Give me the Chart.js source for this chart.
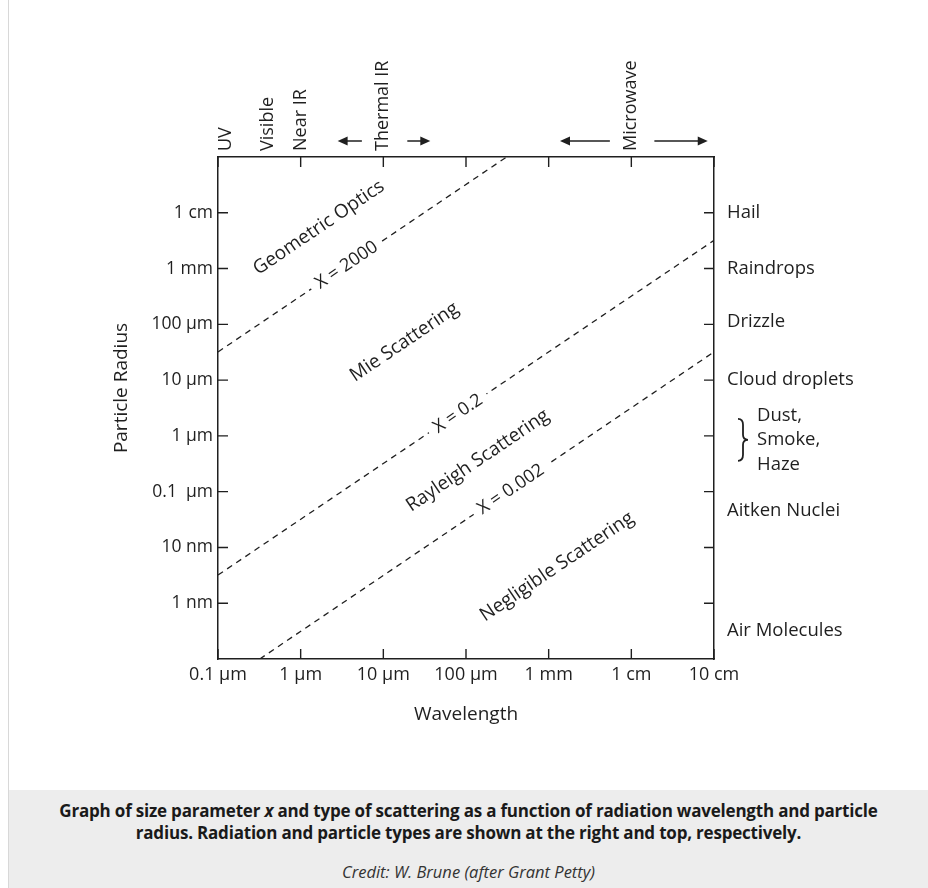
<!DOCTYPE html>
<html>
<head>
<meta charset="utf-8">
<script src="https://cdn.jsdelivr.net/npm/chart.js@4.4.0/dist/chart.umd.min.js"></script>
<style>
body { margin: 0; background: #fff; font-family: 'Open Sans', sans-serif; }
#wrap { position: relative; width: 928px; height: 888px; overflow: hidden; }
#edge { position: absolute; left: 8px; top: 0; width: 1px; height: 888px; background: #d8d8d8; }
#chart { position: absolute; left: 0; top: 0; }
#caption { position: absolute; left: 9px; top: 790px; width: 919px; height: 98px; background: #ededed; text-align: center; color: #1a1a1a; }
.cap { font-weight: 700; font-size: 17px; line-height: 22px; padding-top: 10px; letter-spacing: -0.2px; }
.credit { font-style: italic; font-size: 16.5px; margin-top: 16px; color: #333; }
</style>
</head>
<body>
<div id="wrap">
  <canvas id="chart" width="928" height="790"></canvas>
  <div id="edge"></div>
  <div id="caption">
    <div class="cap">Graph of size parameter <i>x</i> and type of scattering as a function of radiation wavelength and particle<br>radius. Radiation and particle types are shown at the right and top, respectively.</div>
    <div class="credit">Credit: W. Brune (after Grant Petty)</div>
  </div>
</div>
<script>
// axis ticks, in metres
const wavelengthTicks = [1e-7, 1e-6, 1e-5, 1e-4, 1e-3, 1e-2, 1e-1];
const wavelengthLabels = ['0.1 µm', '1 µm', '10 µm', '100 µm', '1 mm', '1 cm', '10 cm'];
const radiusTicks = [1e-9, 1e-8, 1e-7, 1e-6, 1e-5, 1e-4, 1e-3, 1e-2];
const radiusLabels = ['1 nm', '10 nm', '0.1  µm', '1 µm', '10 µm', '100 µm', '1 mm', '1 cm'];

// size parameter lines (end points)
const x2000Line = [{ x: 1e-7, y: 3.2e-5 }, { x: 3.1e-4, y: 1e-1 }];
const x02Line = [{ x: 1e-7, y: 3.2e-9 }, { x: 1e-1, y: 3.2e-3 }];
const x0002Line = [{ x: 3.2e-7, y: 1e-10 }, { x: 1e-1, y: 3.2e-5 }];

// names of the scattering regimes
const regionNames = ['Geometric Optics', 'Mie Scattering', 'Rayleigh Scattering', 'Negligible Scattering'];
const regionWavelength = [1.66e-6, 1.8e-5, 1.39e-4, 1.26e-3];
const regionRadius = [5.4e-3, 4.8e-5, 3.6e-7, 4.5e-9];

// labels sitting on the dashed lines
const lineNames = ['X = 2000', 'X = 0.2', 'X = 0.002'];
const lineNameWavelength = [3.6e-6, 8e-5, 3.5e-4];
const lineNameRadius = [1.15e-3, 2.5e-6, 1.1e-7];

// particle types (right side)
const particleNames = ['Hail', 'Raindrops', 'Drizzle', 'Cloud droplets', 'Dust,|Smoke,|Haze', 'Aitken Nuclei', 'Air Molecules'];
const particleRadius = [1e-2, 1e-3, 1.1e-4, 1e-5, 8.5e-7, 4.5e-8, 3.2e-10];

// radiation types (top)
const radiationNames = ['UV', 'Visible', 'Near IR', 'Thermal IR', 'Microwave'];
const radiationWavelength = [1.25e-7, 4e-7, 1e-6, 1e-5, 1e-2];
const bandArrows = [[5.5e-6, 2.8e-6], [1.95e-5, 3.7e-5], [5.5e-3, 1.37e-3], [1.9e-2, 8.4e-2]];

const ink = '#1f1f1f';
const font = "'Open Sans', sans-serif";

function dashed(data) {
    return {
        data: data,
        showLine: true,
        borderColor: ink,
        borderWidth: 1.3,
        borderDash: [6, 5],
        pointRadius: 0,
        fill: false
    };
}

// ticks pointing into the plot + all text labels
const annotate = {
    id: 'annotate',
    afterDraw(chart) {
        const ctx = chart.ctx;
        const xs = chart.scales.x;
        const ys = chart.scales.y;
        const a = chart.chartArea;
        ctx.save();
        ctx.strokeStyle = ink;
        ctx.lineWidth = 1.4;
        ctx.beginPath();
        wavelengthTicks.forEach(v => {
            const px = xs.getPixelForValue(v);
            ctx.moveTo(px, a.bottom); ctx.lineTo(px, a.bottom - 10);
            ctx.moveTo(px, a.top); ctx.lineTo(px, a.top + 10);
        });
        radiusTicks.forEach(v => {
            const py = ys.getPixelForValue(v);
            ctx.moveTo(a.left, py); ctx.lineTo(a.left + 10, py);
            ctx.moveTo(a.right, py); ctx.lineTo(a.right - 10, py);
        });
        ctx.stroke();

        // slope of the lines in pixels
        const dx = xs.getPixelForValue(1e-6) - xs.getPixelForValue(1e-7);
        const dy = ys.getPixelForValue(1e-9) - ys.getPixelForValue(1e-8);
        const ang = -Math.atan2(dy, dx);

        ctx.fillStyle = ink;
        ctx.textAlign = 'center';
        ctx.textBaseline = 'middle';
        ctx.font = '19px ' + font;
        regionNames.forEach((name, i) => {
            ctx.save();
            ctx.translate(xs.getPixelForValue(regionWavelength[i]), ys.getPixelForValue(regionRadius[i]));
            ctx.rotate(ang);
            ctx.fillText(name, 0, 0);
            ctx.restore();
        });
        ctx.font = '18px ' + font;
        lineNames.forEach((name, i) => {
            ctx.save();
            ctx.translate(xs.getPixelForValue(lineNameWavelength[i]), ys.getPixelForValue(lineNameRadius[i]));
            ctx.rotate(ang);
            const w = ctx.measureText(name).width;
            ctx.fillStyle = '#fff';
            ctx.fillRect(-w / 2 - 7, -4, w + 14, 8);
            ctx.fillStyle = ink;
            ctx.fillText(name, 0, 0);
            ctx.restore();
        });

        // particle types
        ctx.font = '18.5px ' + font;
        ctx.textAlign = 'left';
        particleNames.forEach((name, i) => {
            const py = ys.getPixelForValue(particleRadius[i]);
            const parts = name.split('|');
            if (parts.length === 1) {
                ctx.fillText(name, a.right + 13, py);
                return;
            }
            parts.forEach((p, k) => ctx.fillText(p, a.right + 43, py + (k - 1) * 24.5));
            const bx = a.right + 24, t = py - 21, b = py + 21;
            ctx.lineWidth = 1.8;
            ctx.beginPath();
            ctx.moveTo(bx, t);
            ctx.quadraticCurveTo(bx + 5, t, bx + 5, t + 6);
            ctx.lineTo(bx + 5, py - 5);
            ctx.quadraticCurveTo(bx + 5, py, bx + 10, py);
            ctx.quadraticCurveTo(bx + 5, py, bx + 5, py + 5);
            ctx.lineTo(bx + 5, b - 6);
            ctx.quadraticCurveTo(bx + 5, b, bx, b);
            ctx.stroke();
        });

        // radiation types
        ctx.font = '18px ' + font;
        radiationNames.forEach((name, i) => {
            ctx.save();
            ctx.translate(xs.getPixelForValue(radiationWavelength[i]), a.top - 6);
            ctx.rotate(-Math.PI / 2);
            ctx.fillText(name, 0, 0);
            ctx.restore();
        });
        const ay = a.top - 16;
        ctx.lineWidth = 1.5;
        bandArrows.forEach(([from, to]) => {
            const x0 = xs.getPixelForValue(from);
            const x1 = xs.getPixelForValue(to);
            const d = Math.sign(x1 - x0);
            ctx.beginPath();
            ctx.moveTo(x0, ay); ctx.lineTo(x1 - d * 6, ay);
            ctx.stroke();
            ctx.beginPath();
            ctx.moveTo(x1, ay);
            ctx.lineTo(x1 - d * 10, ay - 4.5);
            ctx.lineTo(x1 - d * 10, ay + 4.5);
            ctx.closePath();
            ctx.fill();
        });

        // y axis title
        ctx.font = '19px ' + font;
        ctx.save();
        ctx.translate(122, 388);
        ctx.rotate(-Math.PI / 2);
        ctx.textAlign = 'center';
        ctx.fillText('Particle Radius', 0, 0);
        ctx.restore();
        ctx.restore();
    }
};

const axisBorder = { display: true, color: ink, width: 1.5 };

new Chart(document.getElementById('chart'), {
    type: 'scatter',
    data: {
        datasets: [dashed(x2000Line), dashed(x02Line), dashed(x0002Line)]
    },
    options: {
        responsive: false,
        animation: false,
        layout: { padding: { left: 108, top: 0, right: 0, bottom: 60 } },
        plugins: { legend: { display: false }, tooltip: { enabled: false } },
        scales: {
            x: {
                type: 'logarithmic',
                position: 'bottom',
                min: 1e-7,
                max: 1e-1,
                afterBuildTicks: s => { s.ticks = wavelengthTicks.map(v => ({ value: v })); },
                afterFit: s => { s.height = 71; },
                ticks: {
                    autoSkip: false,
                    maxRotation: 0,
                    padding: 5,
                    color: ink,
                    font: { family: font, size: 18 },
                    callback: v => wavelengthLabels[wavelengthTicks.indexOf(v)]
                },
                grid: { display: false, drawTicks: false },
                border: axisBorder,
                title: { display: true, text: 'Wavelength', color: ink, font: { family: font, size: 19 } }
            },
            x2: {
                type: 'logarithmic',
                position: 'top',
                min: 1e-7,
                max: 1e-1,
                afterFit: s => { s.height = 157; },
                ticks: { display: false },
                grid: { display: false, drawTicks: false },
                border: axisBorder
            },
            y: {
                type: 'logarithmic',
                position: 'left',
                min: 1e-10,
                max: 1e-1,
                afterBuildTicks: s => { s.ticks = radiusTicks.map(v => ({ value: v })); },
                afterFit: s => { s.width = 110; },
                ticks: {
                    autoSkip: false,
                    padding: 5,
                    color: ink,
                    font: { family: font, size: 17.5 },
                    callback: v => radiusLabels[radiusTicks.indexOf(v)]
                },
                grid: { display: false, drawTicks: false },
                border: axisBorder
            },
            y2: {
                type: 'logarithmic',
                position: 'right',
                min: 1e-10,
                max: 1e-1,
                afterFit: s => { s.width = 214; },
                ticks: { display: false },
                grid: { display: false, drawTicks: false },
                border: axisBorder
            }
        }
    },
    plugins: [annotate]
});
</script>
</body>
</html>
